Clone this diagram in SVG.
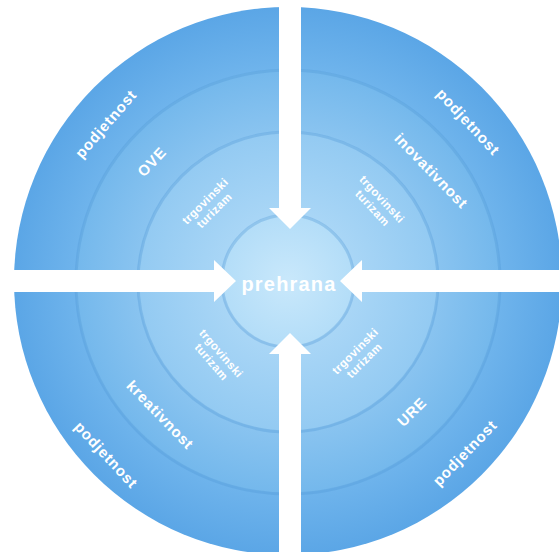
<svg xmlns="http://www.w3.org/2000/svg" width="559" height="552" viewBox="0 0 559 552">
<style>
.lbl{font-family:"Liberation Sans",Arial,sans-serif;font-weight:bold;fill:#ffffff;text-anchor:middle}
.big{font-size:15px;letter-spacing:0.8px}
.sm{font-size:11.5px;letter-spacing:0.5px}
.ctr{font-size:20px;letter-spacing:1.2px}
.edge{fill:none;stroke:#4f97d6;stroke-opacity:0.35;stroke-width:3}
.arrow{fill:#ffffff}
</style>
<defs>
<radialGradient id="g1" cx="288" cy="281" r="274" gradientUnits="userSpaceOnUse">
<stop offset="0.77" stop-color="#6fb4ec"/>
<stop offset="1" stop-color="#5ba6e6"/>
</radialGradient>
<radialGradient id="g2" cx="288" cy="281" r="212" gradientUnits="userSpaceOnUse">
<stop offset="0.7" stop-color="#8ac4f0"/>
<stop offset="1" stop-color="#74b8ec"/>
</radialGradient>
<radialGradient id="g3" cx="288" cy="281" r="150" gradientUnits="userSpaceOnUse">
<stop offset="0.44" stop-color="#a9d6f6"/>
<stop offset="1" stop-color="#93caf2"/>
</radialGradient>
<radialGradient id="g4" cx="288" cy="281" r="66" gradientUnits="userSpaceOnUse">
<stop offset="0" stop-color="#c9e8fb"/>
<stop offset="1" stop-color="#b3ddf8"/>
</radialGradient>
</defs>
<rect width="559" height="552" fill="#ffffff"/>
<g id="ring-outer"><circle cx="288" cy="281" r="274" fill="url(#g1)"/></g>
<g id="ring-middle"><circle cx="288" cy="281" r="212" fill="url(#g2)"/><circle class="edge" cx="288" cy="282" r="212"/></g>
<g id="ring-inner"><circle cx="288" cy="281" r="150" fill="url(#g3)"/><circle class="edge" cx="288" cy="282" r="150"/></g>
<g id="center"><circle cx="288" cy="280" r="66" fill="url(#g4)"/><circle class="edge" cx="288" cy="281" r="66" stroke-opacity="0.2"/></g>
<g id="connectors">
<polygon class="arrow" points="279,0 301,0 301,208 311,208 290,229 269,208 279,208"/>
<polygon class="arrow" points="279,552 301,552 301,354 311,354 290,333 269,354 279,354"/>
<polygon class="arrow" points="0,270 214,270 214,260 236,281 214,302 214,292 0,292"/>
<polygon class="arrow" points="559,270 362,270 362,260 340,281 362,302 362,292 559,292"/>
</g>
<g id="label-center"><text class="lbl ctr" x="289" y="291">prehrana</text></g>
<g id="q-upper-left">
<text class="lbl big" transform="translate(106,124) rotate(-49)" y="5">podjetnost</text>
<text class="lbl big" transform="translate(152,162) rotate(-47)" y="5">OVE</text>
<text class="lbl sm" transform="translate(210,206) rotate(-45)"><tspan x="0" y="-3">trgovinski</tspan><tspan x="0" y="10">turizam</tspan></text>
</g>
<g id="q-upper-right">
<text class="lbl big" transform="translate(468,122) rotate(47)" y="5">podjetnost</text>
<text class="lbl big" transform="translate(431,171) rotate(46)" y="5">inovativnost</text>
<text class="lbl sm" transform="translate(377,204) rotate(47)"><tspan x="0" y="-3">trgovinski</tspan><tspan x="0" y="10">turizam</tspan></text>
</g>
<g id="q-lower-left">
<text class="lbl big" transform="translate(106,455) rotate(47)" y="5">podjetnost</text>
<text class="lbl big" transform="translate(160,415) rotate(46)" y="5">kreativnost</text>
<text class="lbl sm" transform="translate(216,358) rotate(49)"><tspan x="0" y="-3">trgovinski</tspan><tspan x="0" y="10">turizam</tspan></text>
</g>
<g id="q-lower-right">
<text class="lbl big" transform="translate(465,453) rotate(-46)" y="5">podjetnost</text>
<text class="lbl big" transform="translate(412,412) rotate(-45)" y="5">URE</text>
<text class="lbl sm" transform="translate(360,356) rotate(-45)"><tspan x="0" y="-3">trgovinski</tspan><tspan x="0" y="10">turizam</tspan></text>
</g>
</svg>
